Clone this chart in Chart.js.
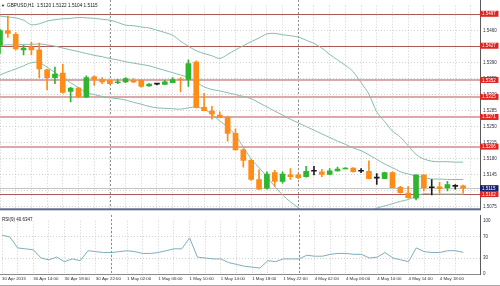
<!DOCTYPE html>
<html><head><meta charset="utf-8">
<script src="https://cdn.jsdelivr.net/npm/chart.js"></script>
<style>
html,body{margin:0;padding:0;background:#fff;}
#wrap{position:relative;width:500px;height:286px;overflow:hidden;background:#fff;}
#main{position:absolute;left:0;top:0;}
#rsi{position:absolute;left:0;top:215px;}
</style></head><body>
<div id="wrap"><canvas id="main" width="500" height="215"></canvas><canvas id="rsi" width="500" height="71"></canvas></div>
<script>
// ---------- data ----------
const headerText = "GBPUSD,H1  1.5120 1.5122 1.5104 1.5115";
const rsiTitle = "RSI(9) 40.6347";
const timeLabels = ["30 Apr 2015","30 Apr 14:00","30 Apr 18:00","30 Apr 22:00","1 May 02:00","1 May 06:00","1 May 10:00","1 May 14:00","1 May 18:00","1 May 22:00","4 May 02:00","4 May 06:00","4 May 10:00","4 May 14:00","4 May 18:00"];
const opens = [1.5428,1.5460,1.5452,1.5418,1.5424,1.5418,1.5374,1.5357,1.5367,1.5327,
1.5334,1.5315,1.5359,1.5353,1.5351,1.5346,1.5348,1.5351,1.5351,1.5339,
1.5343,1.5342,1.5346,1.5353,1.5353,1.5391,1.5292,1.5284,1.5275,1.5270,
1.5235,1.5199,1.5176,1.5134,1.5115,1.5149,1.5130,1.5144,1.5144,1.5140,
1.5152,1.5151,1.5145,1.5153,1.5157,1.5159,1.5152,1.5152,1.5137,1.5136,
1.5149,1.5117,1.5104,1.5093,1.5144,1.5116,1.5118,1.5116,1.5119,1.5120];
const highs = [1.5463,1.5492,1.5456,1.5428,1.5435,1.5433,1.5376,1.5380,1.5386,1.5336,
1.5336,1.5361,1.5361,1.5357,1.5353,1.5353,1.5357,1.5355,1.5353,1.5344,
1.5344,1.5351,1.5357,1.5357,1.5396,1.5394,1.5323,1.5294,1.5282,1.5273,
1.5245,1.5201,1.5178,1.5155,1.5151,1.5154,1.5151,1.5158,1.5147,1.5163,
1.5163,1.5156,1.5158,1.5161,1.5160,1.5160,1.5158,1.5175,1.5147,1.5150,
1.5151,1.5119,1.5119,1.5144,1.5144,1.5134,1.5128,1.5130,1.5123,1.5122];
const lows = [1.5410,1.5445,1.5418,1.5407,1.5407,1.5357,1.5330,1.5344,1.5323,1.5304,
1.5313,1.5313,1.5340,1.5344,1.5342,1.5344,1.5346,1.5346,1.5336,1.5338,
1.5341,1.5342,1.5346,1.5326,1.5338,1.5291,1.5285,1.5266,1.5269,1.5218,
1.5198,1.5161,1.5132,1.5112,1.5113,1.5119,1.5126,1.5134,1.5136,1.5139,
1.5144,1.5140,1.5144,1.5152,1.5157,1.5150,1.5149,1.5135,1.5123,1.5136,
1.5116,1.5104,1.5093,1.5089,1.5109,1.5100,1.5104,1.5109,1.5113,1.5104];
const closes = [1.5460,1.5454,1.5420,1.5422,1.5418,1.5376,1.5357,1.5365,1.5325,1.5334,
1.5315,1.5357,1.5353,1.5348,1.5344,1.5348,1.5355,1.5348,1.5338,1.5343,
1.5343,1.5348,1.5353,1.5352,1.5388,1.5292,1.5285,1.5277,1.5270,1.5235,
1.5199,1.5176,1.5134,1.5113,1.5146,1.5130,1.5146,1.5140,1.5138,1.5152,
1.5152,1.5145,1.5153,1.5157,1.5159,1.5151,1.5152,1.5136,1.5137,1.5149,
1.5116,1.5105,1.5094,1.5144,1.5116,1.5116,1.5114,1.5123,1.5119,1.5115];
const bbUpper = [1.5492,1.5490,1.5488,1.5483,1.5473,1.5475,1.5481,1.5484,1.5486,1.5487,
1.5489,1.5488,1.5487,1.5485,1.5483,1.5478,1.5472,1.5471,1.5468,1.5466,
1.5461,1.5456,1.5450,1.5437,1.5426,1.5416,1.5410,1.5405,1.5399,1.5408,
1.5418,1.5427,1.5436,1.5444,1.5453,1.5454,1.5451,1.5449,1.5446,1.5439,
1.5432,1.5422,1.5408,1.5396,1.5384,1.5370,1.5346,1.5321,1.5282,1.5261,
1.5240,1.5227,1.5208,1.5189,1.5179,1.5174,1.5173,1.5173,1.5172,1.5172];
const bbMiddle = [1.5428,1.5429,1.5429,1.5430,1.5430,1.5431,1.5429,1.5426,1.5422,1.5418,
1.5414,1.5410,1.5406,1.5403,1.5399,1.5396,1.5392,1.5389,1.5386,1.5383,
1.5378,1.5373,1.5368,1.5363,1.5357,1.5347,1.5337,1.5331,1.5328,1.5324,
1.5320,1.5316,1.5311,1.5302,1.5293,1.5284,1.5275,1.5266,1.5258,1.5250,
1.5242,1.5234,1.5226,1.5218,1.5211,1.5203,1.5197,1.5188,1.5178,1.5168,
1.5160,1.5151,1.5146,1.5142,1.5138,1.5135,1.5135,1.5134,1.5134,1.5134];
const bbLower = [1.5363,1.5370,1.5376,1.5383,1.5390,1.5390,1.5380,1.5368,1.5357,1.5346,
1.5335,1.5324,1.5320,1.5316,1.5313,1.5311,1.5308,1.5303,1.5299,1.5294,
1.5291,1.5290,1.5289,1.5288,1.5291,1.5293,1.5288,1.5277,1.5262,1.5249,
1.5231,1.5205,1.5179,1.5160,1.5140,1.5119,1.5100,1.5085,1.5072,1.5057,
1.5049,1.5044,1.5039,1.5041,1.5043,1.5046,1.5053,1.5062,1.5071,1.5076,
1.5081,1.5086,1.5090,1.5097,1.5103,1.5102,1.5102,1.5102,1.5102,1.5102];
const rsiValues = [72.9,69.5,48.9,47.2,45.5,30.0,26.6,31.7,23.2,28.3,
24.9,43.7,42.0,40.3,40.3,42.0,43.7,42.0,38.6,38.6,
40.3,43.7,47.2,47.2,67.8,31.7,30.0,28.3,28.3,21.4,
18.0,14.6,12.9,11.1,24.9,23.2,28.3,28.3,28.3,35.2,
33.4,33.4,36.9,38.6,38.6,36.9,36.9,30.0,31.7,40.3,
30.0,26.6,23.2,48.9,42.0,40.3,40.3,43.7,43.7,40.63];
const priceTicks = [1.5075,1.5110,1.5145,1.5180,1.5215,1.5250,1.5285,1.5320,1.5355,1.5390,1.5425,1.5460,1.5495];
const levelLines = [1.5497,1.5427,1.5352,1.5315,1.5271,1.5206,1.5102];
const bidPrice = 1.5115;
const rsiTicks = [0,30,70,100];
const rsiLevels = [30,70];
const separatorBars = [14,38];

// ---------- styles ----------
const levelLineStyle = ['dark','dark','light','light','light','light','dark'];
const FONT = '"Liberation Sans", Arial, sans-serif';
const GREEN = '#30b530', ORANGE = '#ff8c16', DOJI = '#1e1e1e';
const BB_COLOR = '#86bcad', RSI_COLOR = '#7fadbd';
const GRID = '#cfcfcf', TXT = '#2e2e44';
const X_MIN = 0, X_MAX = 61.15;
const Y_MIN = 1.50687, Y_MAX = 1.55147;

const idx = opens.map((_, i) => i);
const gridTicks = []; for (let v = 0; v <= 60; v += 2) gridTicks.push({value: v});
function candleColor(i){ const o = opens[i], c = closes[i]; return c > o ? GREEN : (c < o ? ORANGE : DOJI); }

const mainDecor = {
  id: 'mainDecor',
  beforeDatasetsDraw(chart){
    const {ctx, chartArea: a, scales: {x, y}} = chart;
    ctx.save();
    ctx.lineWidth = 1;
    ctx.strokeStyle = '#8e8e8e'; ctx.setLineDash([2, 2]);
    separatorBars.forEach(s => { const px = Math.round(x.getPixelForValue(s)) + 0.5; ctx.beginPath(); ctx.moveTo(px, 0); ctx.lineTo(px, a.bottom); ctx.stroke(); });
    ctx.setLineDash([]);
    const by = Math.round(y.getPixelForValue(bidPrice)) + 0.5;
    ctx.strokeStyle = '#c4c4c4'; ctx.beginPath(); ctx.moveTo(a.left, by); ctx.lineTo(a.right, by); ctx.stroke();
    levelLines.forEach((v, k) => {
      const dark = levelLineStyle[k] === 'dark';
      const py = dark ? Math.round(y.getPixelForValue(v)) + 0.5 : Math.round(y.getPixelForValue(v));
      ctx.strokeStyle = dark ? '#b05858' : '#dba9a9';
      ctx.lineWidth = dark ? 1 : 2;
      ctx.beginPath(); ctx.moveTo(a.left, py); ctx.lineTo(a.right, py); ctx.stroke();
    });
    ctx.restore();
  },
  afterDraw(chart){
    const {ctx, chartArea: a, scales: {y}} = chart;
    ctx.save();
    // right axis line
    ctx.fillStyle = '#5a5a5a'; ctx.fillRect(a.right, 0, 1, a.bottom + 1);
    // panel separator
    ctx.fillStyle = '#5d6a98'; ctx.fillRect(0, a.bottom - 1, a.right, 2);
    ctx.font = '4.5px ' + FONT; ctx.textBaseline = 'middle'; ctx.textAlign = 'left';
    const box = (v, bg) => {
      const py = y.getPixelForValue(v);
      ctx.fillStyle = bg; ctx.fillRect(a.right, py - 3, 18.5, 6);
      ctx.fillStyle = '#ffffff'; ctx.fillText(v.toFixed(4), a.right + 2, py + 0.3);
    };
    levelLines.forEach(v => box(v, '#e0241f'));
    box(bidPrice, '#16206a');
    // header
    ctx.fillStyle = '#141414';
    ctx.font = '4px ' + FONT; ctx.fillText('\u25BC', 1, 5.5);
    ctx.font = '4.7px ' + FONT; ctx.fillText(headerText, 7, 5.5);
    ctx.restore();
  }
};

new Chart(document.getElementById('main'), {
  type: 'bar',
  data: { datasets: [
    { type: 'line', data: idx.map(i => ({x: i, y: bbUpper[i]})), borderColor: BB_COLOR, borderWidth: 1, pointRadius: 0, tension: 0.3, order: 3 },
    { type: 'line', data: idx.map(i => ({x: i, y: bbMiddle[i]})), borderColor: BB_COLOR, borderWidth: 1, pointRadius: 0, tension: 0.3, order: 3 },
    { type: 'line', data: idx.map(i => ({x: i, y: bbLower[i]})), borderColor: BB_COLOR, borderWidth: 1, pointRadius: 0, tension: 0.3, order: 3 },
    { data: idx.map(i => ({x: i, y: [lows[i], highs[i]]})), backgroundColor: c => candleColor(c.dataIndex), barThickness: 1, grouped: false, borderWidth: 0, order: 1 },
    { data: idx.map(i => ({x: i, y: [opens[i], closes[i]]})), backgroundColor: c => candleColor(c.dataIndex), barThickness: 5, minBarLength: 1, grouped: false, borderWidth: 0, order: 0 }
  ]},
  options: {
    responsive: false, animation: false, events: [],
    layout: { padding: { top: 2, bottom: 1, left: 0, right: 0 } },
    plugins: { legend: { display: false }, tooltip: { enabled: false } },
    scales: {
      x: { type: 'linear', min: X_MIN, max: X_MAX, offset: false,
        afterBuildTicks: s => { s.ticks = gridTicks.map(t => ({value: t.value})); },
        ticks: { display: false }, grid: { color: GRID, drawTicks: false, offset: false },
        border: { display: false, dash: [1, 2] }, afterFit: s => { s.height = 0; } },
      y: { position: 'right', min: Y_MIN, max: Y_MAX,
        afterBuildTicks: s => { s.ticks = priceTicks.map(v => ({value: v})); },
        ticks: { font: { family: FONT, size: 4.5 }, color: TXT, padding: 3, callback: v => Number(v).toFixed(4) },
        grid: { color: GRID, drawTicks: false }, border: { display: false, dash: [1, 2] },
        afterFit: s => { s.width = 20; } }
    }
  },
  plugins: [mainDecor]
});

const rsiDecor = {
  id: 'rsiDecor',
  beforeDatasetsDraw(chart){
    const {ctx, chartArea: a, scales: {x}} = chart;
    ctx.save(); ctx.lineWidth = 1; ctx.strokeStyle = '#8e8e8e'; ctx.setLineDash([2, 2]);
    separatorBars.forEach(s => { const px = Math.round(x.getPixelForValue(s)) + 0.5; ctx.beginPath(); ctx.moveTo(px, 0); ctx.lineTo(px, a.bottom); ctx.stroke(); });
    ctx.restore();
  },
  afterDraw(chart){
    const {ctx, chartArea: a} = chart;
    ctx.save();
    ctx.fillStyle = '#5a5a5a'; ctx.fillRect(a.right, 0, 1, a.bottom + 1);
    ctx.fillStyle = '#8a8a8a'; ctx.fillRect(0, a.bottom, a.right, 1);
    ctx.fillStyle = '#a8a8a8'; ctx.fillRect(0, 70, 500, 1);
    ctx.fillStyle = '#141414'; ctx.font = '4.5px ' + FONT; ctx.textBaseline = 'middle'; ctx.textAlign = 'left';
    ctx.fillText(rsiTitle, 2, 4.5);
    ctx.restore();
  }
};

new Chart(document.getElementById('rsi'), {
  type: 'line',
  data: { datasets: [
    { data: idx.map(i => ({x: i, y: rsiValues[i]})), borderColor: RSI_COLOR, borderWidth: 1, pointRadius: 0, tension: 0 }
  ]},
  options: {
    responsive: false, animation: false, events: [],
    layout: { padding: { top: 1, bottom: 0, left: 0, right: 0 } },
    plugins: { legend: { display: false }, tooltip: { enabled: false } },
    scales: {
      x: { type: 'linear', min: X_MIN, max: X_MAX, offset: false,
        afterBuildTicks: s => { s.ticks = gridTicks.map(t => ({value: t.value})); },
        ticks: { font: { family: FONT, size: 4.4 }, color: TXT, align: 'start', padding: 2, autoSkip: false, maxRotation: 0, minRotation: 0,
          callback: v => (v % 4 === 0 ? timeLabels[v / 4] : '') },
        grid: { color: GRID, drawTicks: false, offset: false }, border: { display: false, dash: [1, 2] },
        afterFit: s => { s.height = 12; } },
      y: { position: 'right', min: 0, max: 100,
        afterBuildTicks: s => { s.ticks = rsiTicks.map(v => ({value: v})); },
        ticks: { font: { family: FONT, size: 4.5 }, color: TXT, padding: 3 },
        grid: { color: c => (c.tick && rsiLevels.includes(c.tick.value)) ? GRID : 'rgba(0,0,0,0)', drawTicks: false },
        border: { display: false, dash: [1, 2] }, afterFit: s => { s.width = 20; } }
    }
  },
  plugins: [rsiDecor]
});
</script>
</body></html>
